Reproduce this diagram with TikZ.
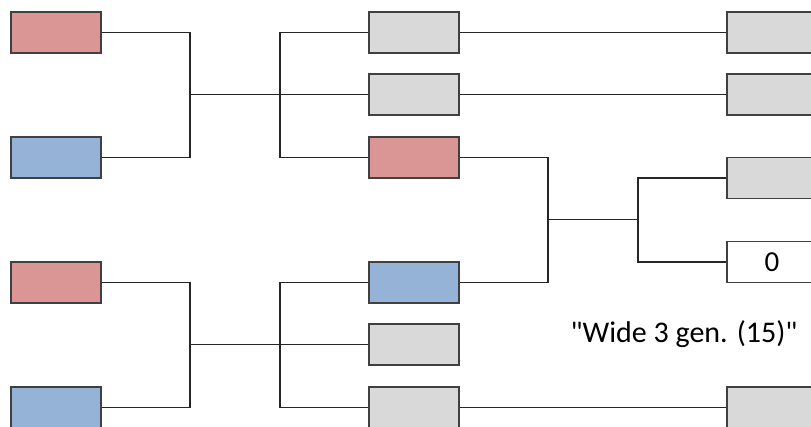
\documentclass[tikz,border=0pt]{standalone}
\usepackage{fontspec}
\setmainfont{Carlito}[Ligatures=TeXOff]
\definecolor{boxred}{HTML}{D99694}
\definecolor{boxblue}{HTML}{95B3D7}
\definecolor{boxgray}{HTML}{D9D9D9}
\definecolor{boxline}{HTML}{404040}
\begin{document}
\begin{tikzpicture}[x=1pt,y=-1pt,
  gbox/.style={draw=boxline,line width=1.6pt,minimum width=90pt,minimum height=41pt,inner sep=0pt,fill=#1},
  gbox/.default=boxgray,
  link/.style={line width=1.2pt,draw=black!85}]
\clip (0,0) rectangle (811,427);
% left column
\node[gbox=boxred]  (L1) at (56,32.5) {};
\node[gbox=boxblue] (L2) at (56,157.5) {};
\node[gbox=boxred]  (L3) at (56,282.5) {};
\node[gbox=boxblue] (L4) at (56,407.5) {};
% middle column
\node[gbox] (M1) at (414,32.5) {};
\node[gbox] (M2) at (414,94.5) {};
\node[gbox=boxred] (M3) at (414,157.5) {};
\node[gbox=boxblue] (M4) at (414,282.5) {};
\node[gbox] (M5) at (414,344.5) {};
\node[gbox] (M6) at (414,407.5) {};
% right column
\node[gbox] (R1) at (772,32.5) {};
\node[gbox] (R2) at (772,94.5) {};
\node[gbox] (R3) at (772,178) {};
\node[gbox=white,font=\fontsize{29}{32}\selectfont] (R4) at (772,262) {0};
\node[gbox] (R5) at (772,407.5) {};
\node[font=\fontsize{30}{33}\selectfont] (lbl) at (684,334) {"Wide 3 gen. (15)"};
% junctions
\coordinate (a1) at (190,94.5);
\coordinate (b1) at (280,94.5);
\coordinate (a2) at (190,344.5);
\coordinate (b2) at (280,344.5);
\coordinate (c1) at (548,219.5);
\coordinate (d1) at (638,219.5);
% connectors
\draw[link] (L1.east) -| (a1) |- (L2.east);
\draw[link] (a1) -- (b1);
\draw[link] (M1.west) -| (b1) |- (M3.west);
\draw[link] (b1) -- (M2.west);
\draw[link] (L3.east) -| (a2) |- (L4.east);
\draw[link] (a2) -- (b2);
\draw[link] (M4.west) -| (b2) |- (M6.west);
\draw[link] (b2) -- (M5.west);
\draw[link] (M1.east) -- (R1.west);
\draw[link] (M2.east) -- (R2.west);
\draw[link] (M3.east) -| (c1) |- (M4.east);
\draw[link] (c1) -- (d1);
\draw[link] (R3.west) -| (d1) |- (R4.west);
\draw[link] (M6.east) -- (R5.west);
\end{tikzpicture}
\end{document}
